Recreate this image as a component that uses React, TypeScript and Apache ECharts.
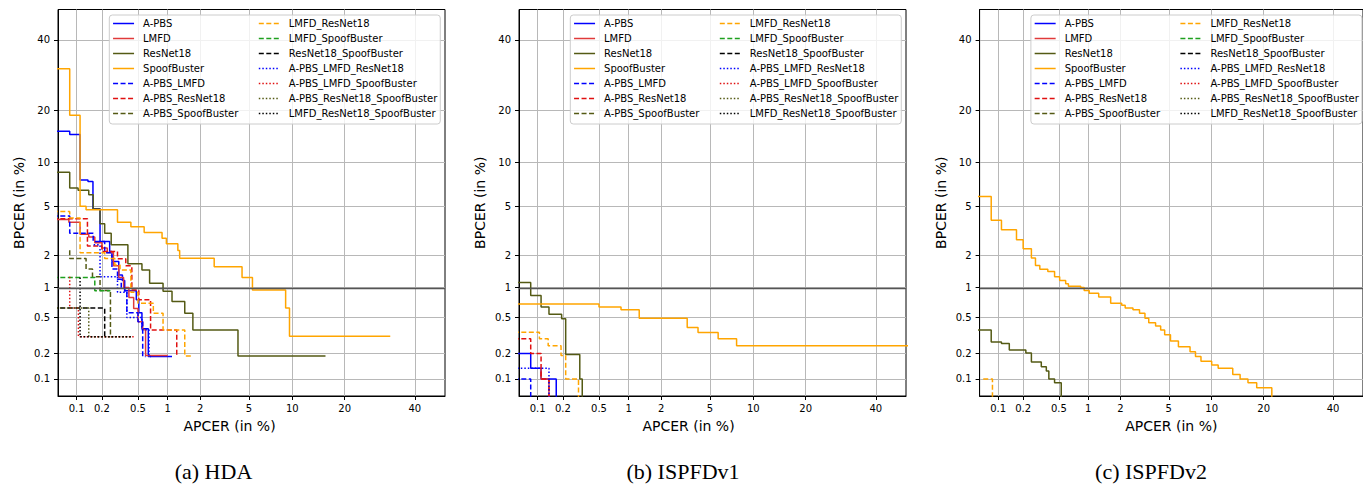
import React, { useEffect, useRef } from "react";
import * as echarts from "echarts";

// ---------- data (APCER %, BPCER %) ; each point = where the curve steps down ----------
const SERIES_NAMES = [
  "A-PBS", "LMFD", "ResNet18", "SpoofBuster",
  "A-PBS_LMFD", "A-PBS_ResNet18", "A-PBS_SpoofBuster",
  "LMFD_ResNet18", "LMFD_SpoofBuster", "ResNet18_SpoofBuster",
  "A-PBS_LMFD_ResNet18", "A-PBS_LMFD_SpoofBuster", "A-PBS_ResNet18_SpoofBuster", "LMFD_ResNet18_SpoofBuster",
];

const TICKS = [0.1, 0.2, 0.5, 1, 2, 5, 10, 20, 40];
const TICK_LABELS = ["0.1", "0.2", "0.5", "1", "2", "5", "10", "20", "40"];

// (a) HDA
const hdaApbs = [[0.05,15.4],[0.082,14.8],[0.11,7.7],[0.137,7.5],[0.157,4.78],[0.19,2.62],[0.245,2.15],[0.26,1.75],[0.31,1.32],[0.34,1.17],[0.36,0.93],[0.48,0.76],[0.51,0.56],[0.55,0.378],[0.64,0.185],[1.1,0.185]];
const hdaLmfd = [[0.05,3.95],[0.08,3.75],[0.11,3.0],[0.14,2.85],[0.165,2.55],[0.2,2.3],[0.23,2.1],[0.27,1.6],[0.31,1.25],[0.35,1.0],[0.4,0.8],[0.45,0.62],[0.5,0.45],[0.56,0.37],[0.6,0.19],[1.0,0.19]];
const hdaResnet = [[0.05,8.66],[0.082,6.77],[0.104,6.52],[0.14,6.07],[0.158,4.76],[0.19,3.66],[0.215,3.07],[0.255,2.45],[0.39,1.67],[0.55,1.47],[0.66,1.10],[0.9,0.92],[1.1,0.73],[1.45,0.554],[1.72,0.368],[4.12,0.188],[15.8,0.188]];
const hdaSpoof = [[0.05,31.0],[0.082,18.8],[0.11,5.0],[0.13,4.7],[0.30,3.75],[0.42,3.46],[0.58,3.10],[0.88,2.78],[0.97,2.5],[1.25,2.19],[1.3,1.87],[2.64,1.57],[4.43,1.25],[5.31,0.95],[9.06,0.625],[9.6,0.313],[32.3,0.313]];
const hdaApbsLmfd = [[0.05,4.2],[0.082,3.07],[0.158,2.62],[0.215,2.09],[0.26,1.5],[0.3,1.2],[0.33,1.0],[0.36,0.9],[0.38,0.56],[0.5,0.45],[0.56,0.185],[0.6,0.185]];
const hdaApbsResnet = [[0.05,4.0],[0.135,2.4],[0.2,2.15],[0.3,1.85],[0.37,1.6],[0.43,0.95],[0.51,0.76],[0.675,0.368],[1.22,0.188]];
const hdaApbsSpoof = [[0.082,2.2],[0.082,1.86],[0.13,1.5],[0.155,1.27],[0.19,0.94],[0.25,0.31],[0.26,0.31]];
const hdaLmfdResnet = [[0.05,4.56],[0.082,4.06],[0.11,2.09],[0.215,1.86],[0.28,1.63],[0.32,1.47],[0.42,0.9],[0.5,0.7],[0.72,0.554],[0.9,0.368],[1.45,0.188],[1.72,0.188]];
const hdaLmfdSpoof = [[0.05,1.25],[0.165,0.93],[0.25,0.93]];
const hdaResnetSpoof = [[0.05,0.625],[0.215,0.31]];
const hdaApbsLmfdResnet = [[0.16,2.45],[0.19,1.27],[0.3,0.9],[0.38,0.5],[0.55,0.37],[0.65,0.185],[0.68,0.185]];
const hdaApbsLmfdSpoof = [[0.082,1.27],[0.082,0.625],[0.105,0.31],[0.45,0.31]];
const hdaApbsResnetSpoof = [[0.05,0.625],[0.14,0.31],[0.43,0.31]];
const hdaLmfdResnetSpoof = [[0.11,1.25],[0.11,0.31],[0.42,0.31]];

// (b) ISPFDv1
const v1Apbs = [[0.05,0.2],[0.082,0.135],[0.11,0.1],[0.167,0.04]];
const v1Lmfd = [[0.11,0.135],[0.11,0.1],[0.137,0.1],[0.137,0.04]];
const v1Resnet = [[0.05,1.12],[0.082,0.836],[0.11,0.64],[0.137,0.54],[0.193,0.483],[0.215,0.195],[0.31,0.1],[0.33,0.04]];
const v1Spoof = [[0.05,0.69],[0.5,0.64],[0.84,0.6],[1.26,0.49],[3.32,0.39],[4.05,0.345],[5.75,0.294],[7.76,0.245],[55,0.245]];
const v1ApbsLmfd = [[0.05,0.1],[0.082,0.04]];
const v1ApbsResnet = [[0.05,0.294],[0.082,0.2],[0.11,0.1],[0.137,0.04]];
const v1LmfdResnet = [[0.05,0.348],[0.105,0.294],[0.134,0.245],[0.19,0.19],[0.215,0.1],[0.3,0.04]];
const v1ApbsLmfdResnet = [[0.05,0.135],[0.137,0.04]];

// (c) ISPFDv2
const v2Resnet = [[0.05,0.368],[0.082,0.27],[0.11,0.26],[0.137,0.22],[0.215,0.203],[0.249,0.16],[0.322,0.14],[0.366,0.125],[0.39,0.1],[0.45,0.09],[0.53,0.04]];
const v2Spoof = [[0.05,5.9],[0.082,3.89],[0.11,3.27],[0.167,2.7],[0.2,2.27],[0.249,1.88],[0.277,1.61],[0.31,1.49],[0.38,1.42],[0.45,1.27],[0.51,1.17],[0.59,1.09],[0.63,1.03],[0.84,1.0],[0.91,0.94],[1.02,0.88],[1.26,0.81],[1.63,0.70],[2.05,0.67],[2.2,0.625],[2.57,0.6],[2.92,0.554],[3.24,0.49],[3.48,0.44],[3.95,0.405],[4.33,0.368],[4.65,0.325],[5.15,0.277],[5.9,0.24],[7.15,0.21],[7.8,0.185],[8.5,0.163],[10.0,0.147],[11.0,0.135],[13.5,0.113],[14.9,0.1],[16.5,0.09],[18.4,0.078],[22.0,0.04]];
const v2LmfdResnet = [[0.065,0.1],[0.085,0.04]];
const EMPTY: number[][] = [];

const HDA = [hdaApbs, hdaLmfd, hdaResnet, hdaSpoof, hdaApbsLmfd, hdaApbsResnet, hdaApbsSpoof, hdaLmfdResnet, hdaLmfdSpoof, hdaResnetSpoof, hdaApbsLmfdResnet, hdaApbsLmfdSpoof, hdaApbsResnetSpoof, hdaLmfdResnetSpoof];
const V1 = [v1Apbs, v1Lmfd, v1Resnet, v1Spoof, v1ApbsLmfd, v1ApbsResnet, EMPTY, v1LmfdResnet, EMPTY, EMPTY, v1ApbsLmfdResnet, EMPTY, EMPTY, EMPTY];
const V2 = [EMPTY, EMPTY, v2Resnet, v2Spoof, EMPTY, EMPTY, EMPTY, v2LmfdResnet, EMPTY, EMPTY, EMPTY, EMPTY, EMPTY, EMPTY];

// ---------- styles ----------
const COLORS = ["#0000ff", "#e03a3a", "#545a14", "#ffa500", "#0000ff", "#e01010", "#545a14", "#ffa500", "#1ea01e", "#000000", "#0000ff", "#e01010", "#545a14", "#000000"];
const DASHED = [5, 2.5];
const DOTTED = [1.5, 2];
const TYPES: any[] = ["solid", "solid", "solid", "solid", DASHED, DASHED, DASHED, DASHED, DASHED, DASHED, DOTTED, DOTTED, DOTTED, DOTTED];

const PANELS = [
  { left: 58, caption: "(a) HDA", captionX: 213.5, nameShift: 44, data: HDA },
  { left: 519, caption: "(b) ISPFDv1", captionX: 683, nameShift: 48, data: V1 },
  { left: 979.6, caption: "(c) ISPFDv2", captionX: 1151, nameShift: 0, data: V2 },
];

// inverse normal CDF (Acklam)
function probit(p: number): number {
  const a = [-3.969683028665376e1, 2.209460984245205e2, -2.759285104469687e2, 1.38357751867269e2, -3.066479806614716e1, 2.506628277459239];
  const b = [-5.447609879822406e1, 1.615858368580409e2, -1.556989798598866e2, 6.680131188771972e1, -1.328068155288572e1];
  const c = [-7.784894002430293e-3, -3.223964580411365e-1, -2.400758277161838, -2.549732539343734, 4.374664141464968, 2.938163982698783];
  const d = [7.784695709041462e-3, 3.224671290700398e-1, 2.445134137142996, 3.754408661907416];
  const pl = 0.02425;
  if (p < pl) {
    const q = Math.sqrt(-2 * Math.log(p));
    return (((((c[0] * q + c[1]) * q + c[2]) * q + c[3]) * q + c[4]) * q + c[5]) / ((((d[0] * q + d[1]) * q + d[2]) * q + d[3]) * q + 1);
  }
  if (p <= 1 - pl) {
    const q = p - 0.5, r = q * q;
    return ((((((a[0] * r + a[1]) * r + a[2]) * r + a[3]) * r + a[4]) * r + a[5]) * q) / (((((b[0] * r + b[1]) * r + b[2]) * r + b[3]) * r + b[4]) * r + 1);
  }
  const q = Math.sqrt(-2 * Math.log(1 - p));
  return -(((((c[0] * q + c[1]) * q + c[2]) * q + c[3]) * q + c[4]) * q + c[5]) / ((((d[0] * q + d[1]) * q + d[2]) * q + d[3]) * q + 1);
}

const TICK_VALUES = TICKS.map((t) => probit(t / 100));
const fmt = (v: number) => {
  const i = TICK_VALUES.findIndex((t) => Math.abs(t - v) < 1e-6);
  return i >= 0 ? TICK_LABELS[i] : "";
};

const X_MIN = -3.247, X_MAX = 0;
const Y_MIN = -3.233, Y_MAX = 0;
const FONT = "DejaVu Sans";

function buildOption() {
  const grids: any[] = [], xAxes: any[] = [], yAxes: any[] = [], series: any[] = [], legends: any[] = [], graphics: any[] = [];
  PANELS.forEach((p, gi) => {
    grids.push({ left: p.left, top: 9.5, width: 387, height: 386.5, show: true, borderColor: "#000", borderWidth: 1, backgroundColor: "transparent" });
    const common = {
      type: "value", gridIndex: gi,
      axisLine: { show: true, onZero: false, lineStyle: { color: "#000", width: 1 } },
      axisTick: { show: true, customValues: TICK_VALUES, length: 4, lineStyle: { color: "#000", width: 1 } },
      axisLabel: { customValues: TICK_VALUES, formatter: fmt, color: "#000", fontSize: 10, fontFamily: FONT },
      splitLine: { show: true, lineStyle: { color: "#b8b8b8", width: 1 } },
      nameLocation: "middle",
    };
    xAxes.push({
      ...common, min: X_MIN, max: X_MAX, name: "APCER (in %)", nameGap: 23,
      nameTextStyle: { color: "#000", fontSize: 14, fontFamily: FONT, padding: [0, p.nameShift, 0, 0] },
      axisLabel: { ...common.axisLabel, margin: 7 },
    });
    yAxes.push({
      ...common, min: Y_MIN, max: Y_MAX, name: "BPCER (in %)", nameGap: 32,
      nameTextStyle: { color: "#000", fontSize: 14, fontFamily: FONT },
      axisLabel: { ...common.axisLabel, margin: 8 },
    });

    SERIES_NAMES.forEach((name, si) => {
      const s: any = {
        type: "line", name, xAxisIndex: gi, yAxisIndex: gi,
        data: p.data[si].map(([x, y]) => [probit(x / 100), probit(y / 100)]),
        step: "end", symbol: "none", showSymbol: false, clip: true, silent: true,
        lineStyle: { color: COLORS[si], width: 1.5, type: TYPES[si] },
        itemStyle: { color: COLORS[si] },
        z: 3 + si * 0.01,
      };
      if (si === 0) {
        s.markLine = {
          silent: true, symbol: ["none", "none"], label: { show: false },
          lineStyle: { color: "#555", width: 1.3, type: "solid" },
          data: [{ yAxis: probit(0.01) }],
        };
      }
      series.push(s);
    });

    legends.push({
      orient: "vertical",
      left: p.left + 51.3, top: 15, height: 112,
      itemWidth: 21, itemHeight: 10, itemGap: 4,
      padding: [3, 3, 5, 3],
      borderColor: "#cccccc", borderWidth: 1, borderRadius: 3,
      backgroundColor: "rgba(255,255,255,0.8)",
      selectedMode: false,
      itemStyle: { opacity: 0 },
      lineStyle: { width: 1.5 },
      textStyle: { color: "#000", fontSize: 10, fontFamily: FONT, lineHeight: 11, padding: [0, 0, 0, 4] },
      data: SERIES_NAMES.map((n, i) => (i < 7 ? { name: n, textStyle: { width: 111, overflow: "none" } } : { name: n })),
    });

    graphics.push({
      type: "text", x: p.captionX, y: 471,
      style: { text: p.caption, fontSize: 22, fontFamily: "Liberation Serif", fill: "#000", align: "center", verticalAlign: "middle" },
    });
  });
  return { animation: false, backgroundColor: "#fff", grid: grids, xAxis: xAxes, yAxis: yAxes, series, legend: legends, graphic: graphics };
}

export default function App() {
  const ref = useRef<HTMLDivElement>(null);
  useEffect(() => {
    document.body.style.margin = "0";
    const chart = echarts.init(ref.current!, undefined, { renderer: "svg" });
    chart.setOption(buildOption() as any);
    return () => chart.dispose();
  }, []);
  return <div ref={ref} style={{ position: "absolute", left: 0, top: 0, width: 1363, height: 485 }} />;
}
